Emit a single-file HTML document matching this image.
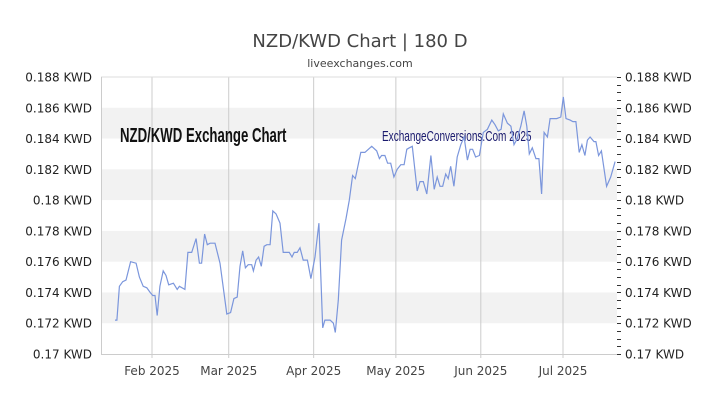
<!DOCTYPE html>
<html><head><meta charset="utf-8"><style>
body{margin:0;background:#fff;}
svg{display:block;font-family:"DejaVu Sans","Liberation Sans",sans-serif;}
</style></head><body>
<svg id="chart" width="720" height="405" viewBox="0 0 720 405" xmlns="http://www.w3.org/2000/svg">
<text x="360" y="47" text-anchor="middle" font-size="18" fill="#444">NZD/KWD Chart | 180 D</text>
<text x="360" y="67" text-anchor="middle" font-size="11" fill="#444">liveexchanges.com</text>
<g id="bands"></g>
<g id="grid"></g>
<g id="axes"></g>
<text x="120" y="142" font-family="'Liberation Sans Narrow','Liberation Sans',sans-serif" font-weight="bold" font-size="20" fill="#111" transform="translate(120,0) scale(0.66,1) translate(-120,0)">NZD/KWD Exchange Chart</text>
<text x="382" y="141" font-family="'Liberation Sans Narrow','Liberation Sans',sans-serif" font-size="15" fill="#1a1a6e" transform="translate(382,0) scale(0.67,1) translate(-382,0)">ExchangeConversions.Com 2025</text>
<g id="series"></g>
</svg>
<script>
const monthLabels=["Feb 2025","Mar 2025","Apr 2025","May 2025","Jun 2025","Jul 2025"];
const monthDays=[0,28,59,89,120,150];
const yTicks=[0.17,0.172,0.174,0.176,0.178,0.18,0.182,0.184,0.186,0.188];
const yTickLabels=["0.17 KWD","0.172 KWD","0.174 KWD","0.176 KWD","0.178 KWD","0.18 KWD","0.182 KWD","0.184 KWD","0.186 KWD","0.188 KWD"];
const days=[-13.5,-12.8,-11.9,-10.7,-9.5,-7.8,-5.8,-4.6,-3.2,-1.9,-0.7,0.3,1.1,1.9,2.9,4.1,5.1,6.1,7.8,9.2,10,12,13.1,14.5,16.1,17.3,18.1,19.2,20.2,21.2,23,24.8,27.3,28.7,29.9,31.1,32.1,33.1,34.1,35.1,36.4,37,38,38.9,39.9,40.9,41.9,43.1,44.1,45.3,46.7,47.9,50.1,51.1,51.9,53,54,55.2,56.7,58,59.5,60.9,62.3,63.1,65,66.2,66.9,68,69.2,70.8,72,73.2,74.2,76.2,77.7,80.2,82,83,83.8,85,86,87.1,88.3,89.5,90.8,92,93,93.9,95,96.8,97.8,99,100.3,101.8,103,104.1,105.1,106.1,107.2,108.1,109,110.2,111.4,112.7,113.9,115.1,116.1,117,118.1,119.5,120.9,122.4,124,125.2,126.4,127.4,128.2,129.7,131,132.1,133.3,134.6,135.8,136.8,137.7,138.8,140.1,141.2,142.2,143.1,144.3,145.3,147.7,149.2,150.1,151.1,152.6,153.6,154.7,155.9,156.9,158,158.9,159.9,161.3,162,163,164,165.9,167.4,169];
const rates=[0.1722,0.1722,0.1744,0.1747,0.1748,0.1760,0.1759,0.1750,0.1744,0.1743,0.1740,0.1738,0.1738,0.1725,0.1744,0.1754,0.1751,0.1745,0.1746,0.1742,0.1744,0.1742,0.1766,0.1766,0.1775,0.1759,0.1759,0.1778,0.1771,0.1772,0.1772,0.1759,0.1726,0.1727,0.1736,0.1737,0.1757,0.1767,0.1756,0.1758,0.1758,0.1754,0.1761,0.1763,0.1757,0.1770,0.1771,0.1771,0.1793,0.1791,0.1785,0.1766,0.1766,0.1763,0.1766,0.1766,0.1769,0.1761,0.1761,0.1749,0.1763,0.1785,0.1717,0.1722,0.1722,0.1720,0.1714,0.1735,0.1774,0.1788,0.1800,0.1816,0.1814,0.1831,0.1831,0.1835,0.1832,0.1827,0.1829,0.1829,0.1824,0.1824,0.1815,0.1820,0.1823,0.1823,0.1833,0.1834,0.1835,0.1806,0.1812,0.1812,0.1804,0.1829,0.1807,0.1815,0.1809,0.1809,0.1817,0.1814,0.1822,0.1809,0.1828,0.1836,0.1841,0.1826,0.1833,0.1833,0.1828,0.1829,0.1844,0.1846,0.1852,0.1849,0.1845,0.1846,0.1856,0.1850,0.1848,0.1836,0.1840,0.1848,0.1858,0.1848,0.1830,0.1834,0.1827,0.1827,0.1804,0.1844,0.1841,0.1853,0.1853,0.1854,0.1867,0.1853,0.1852,0.1851,0.1851,0.1831,0.1836,0.1829,0.1839,0.1841,0.1838,0.1838,0.1829,0.1832,0.1809,0.1815,0.1825];

const NS="http://www.w3.org/2000/svg";
const X0=101,X1=617,Y0=354,Y1=77;
function xScale(d){return 152+d*(563-152)/150;}
function yScale(v){return Y0-(v-0.17)/(0.188-0.17)*(Y0-Y1);}
function mk(tag,parent,attrs){const e=document.createElementNS(NS,tag);for(const k in attrs)e.setAttribute(k,attrs[k]);document.getElementById(parent).appendChild(e);return e;}

for(let i=0;i<yTicks.length-1;i++){
  if(i%2===1){
    const r=mk('rect','bands',{x:X0,y:yScale(yTicks[i+1]),width:X1-X0,height:yScale(yTicks[i])-yScale(yTicks[i+1]),fill:'#f2f2f2'});
    
    
  }
}
monthDays.forEach((d,i)=>{
  const x=xScale(d);
  const l=mk('line','grid',{x1:x,x2:x,y1:Y1,y2:Y0+4,stroke:'#ccc','stroke-width':1});
  
  
  const t=mk('text','axes',{x:x,y:375,'text-anchor':'middle','font-size':12,fill:'#444'});
  t.textContent=monthLabels[i];
  
  
});
const topBorder=mk('line','axes',{x1:X0,x2:X1,y1:Y1,y2:Y1,stroke:'#ddd'});


const bx=mk('line','axes',{x1:X0,x2:X1,y1:Y0+0.5,y2:Y0+0.5,stroke:'#ccc'});


const lx=mk('line','axes',{x1:X0+0.5,x2:X0+0.5,y1:Y1,y2:Y0,stroke:'#ccc'});


yTicks.forEach((v,i)=>{
  const y=yScale(v);
  const a=mk('text','axes',{x:92,y:y+4.5,'text-anchor':'end','font-size':12,fill:'#222'});
  a.textContent=yTickLabels[i];
  
  
  const b=mk('text','axes',{x:625,y:y+4.5,'font-size':12,fill:'#222'});
  b.textContent=yTickLabels[i];
  
  
});
for(let k=0;k<=36;k++){
  const v=0.17+k*0.0005;
  const y=Math.round(yScale(v))+0.5;
  const t=mk('line','axes',{x1:617,x2:621,y1:y,y2:y,stroke:'#333'});
  
  
}
const pts=days.map((d,i)=>xScale(d).toFixed(1)+','+yScale(rates[i]).toFixed(1)).join(' ');
const pl=mk('polyline','series',{points:pts,fill:'none',stroke:'#7b96dc','stroke-width':1.2});


</script>
</body></html>
